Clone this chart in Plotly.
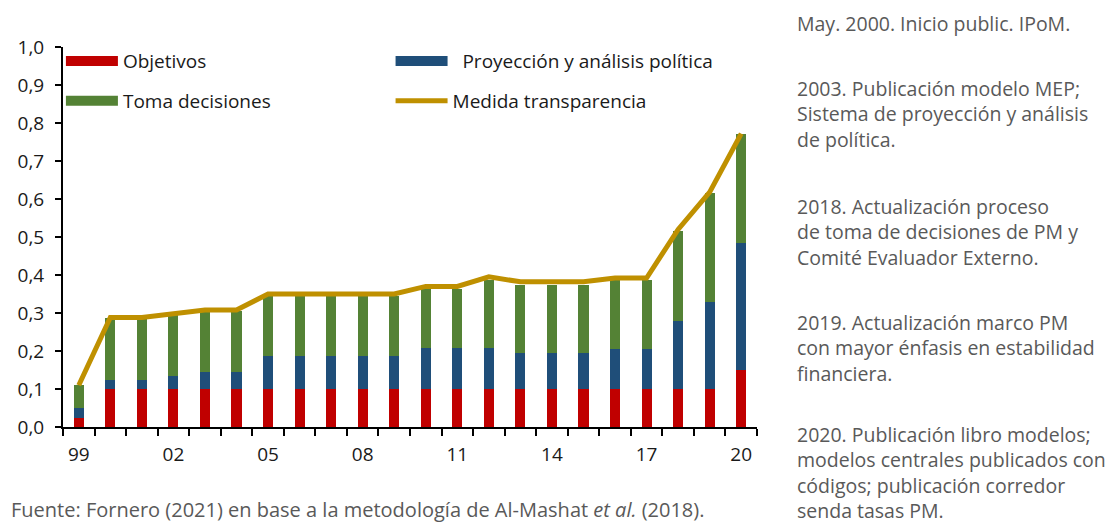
import plotly.graph_objects as go

years = list(range(1999, 2021))
objetivos = [0.025] + [0.1] * 20 + [0.15]
proyeccion = [0.024, 0.023, 0.023, 0.033, 0.046, 0.046, 0.086, 0.086, 0.086, 0.086, 0.086,
              0.107, 0.107, 0.107, 0.095, 0.095, 0.095, 0.104, 0.104, 0.179, 0.228, 0.333]
toma = [0.062, 0.164, 0.164, 0.163, 0.160, 0.160, 0.160, 0.160, 0.160, 0.160, 0.160,
        0.156, 0.156, 0.181, 0.180, 0.180, 0.180, 0.182, 0.182, 0.238, 0.288, 0.288]
medida = [0.110, 0.288, 0.288, 0.297, 0.308, 0.308, 0.350, 0.350, 0.350, 0.350, 0.350,
          0.370, 0.370, 0.395, 0.382, 0.382, 0.382, 0.392, 0.392, 0.520, 0.618, 0.772]
tick_years = [1999, 2002, 2005, 2008, 2011, 2014, 2017, 2020]
tick_labels = ["99", "02", "05", "08", "11", "14", "17", "20"]

notes = [
    "May. 2000. Inicio public. IPoM.",
    "2003. Publicación modelo MEP;<br>Sistema de proyección y análisis<br>de política.",
    "2018. Actualización proceso<br>de toma de decisiones de PM y<br>Comité Evaluador Externo.",
    "2019. Actualización marco PM<br>con mayor énfasis en estabilidad<br>financiera.",
    "2020. Publicación libro modelos;<br>modelos centrales publicados con<br>códigos; publicación corredor<br>senda tasas PM.",
]
source = "Fuente: Fornero (2021) en base a la metodología de Al-Mashat <i>et al.</i> (2018)."

RED, BLUE, GREEN, GOLD = "#C00000", "#1F4E79", "#548235", "#BF9000"
FONT = "Open Sans"
TXT = "#1a1a1a"
GREY = "#595959"

fig = go.Figure()
for name, vals, col in [("Objetivos", objetivos, RED),
                        ("Proyección y análisis política", proyeccion, BLUE),
                        ("Toma decisiones", toma, GREEN)]:
    fig.add_trace(go.Bar(x=years, y=vals, name=name, marker=dict(color=col, line=dict(width=0)),
                         width=0.32, showlegend=False))
fig.add_trace(go.Scatter(x=years, y=medida, mode="lines", name="Medida transparencia",
                         line=dict(color=GOLD, width=5), showlegend=False))

# legend entries
leg_items = [("Objetivos", RED, "legend", 12),
             ("  Proyección y análisis política", BLUE, "legend2", 12),
             ("Toma decisiones", GREEN, "legend3", 12),
             ("Medida transparencia", GOLD, "legend4", 5)]
for name, col, lg, lw in leg_items:
    fig.add_trace(go.Scatter(x=[None], y=[None], mode="lines", name=name,
                             line=dict(color=col, width=lw), legend=lg, showlegend=True))

def leg(x, y):
    return dict(x=x, y=y, xanchor="left", yanchor="middle", bgcolor="rgba(0,0,0,0)",
                font=dict(family=FONT, size=19, color=TXT), itemwidth=52,
                tracegroupgap=0)

fig.update_layout(
    width=1115, height=526,
    margin=dict(l=63, r=358, t=47, b=99),
    paper_bgcolor="white", plot_bgcolor="white",
    barmode="stack", separators=",.",
    font=dict(family=FONT, size=19, color=TXT),
    legend=leg(-0.003, 0.963),
    legend2=leg(0.472, 0.963),
    legend3=leg(-0.003, 0.858),
    legend4=leg(0.472, 0.858),
    xaxis=dict(range=[1998.5, 2020.5], tickmode="array", tickvals=tick_years, ticktext=tick_labels,
               ticks="", ticklabelstandoff=9, showline=True, linecolor="black", linewidth=2,
               showgrid=False, zeroline=False,
               tickfont=dict(family=FONT, size=19, color=TXT),
               minor=dict(tickmode="array", tickvals=[y - 0.5 for y in years] + [2020.5],
                          ticks="outside", ticklen=7, tickwidth=2, tickcolor="black", showgrid=False)),
    yaxis=dict(range=[0, 1.0], dtick=0.1, tickformat=".1f", ticks="outside", ticklen=6, tickwidth=2,
               ticklabelstandoff=7,
               tickcolor="black", showline=True, linecolor="black", linewidth=2, showgrid=False,
               zeroline=False, tickfont=dict(family=FONT, size=19, color=TXT)),
)

note_y = [24, 114, 232, 348, 472]
for txt, yy in zip(notes, note_y):
    fig.add_annotation(text=txt, xref="paper", yref="paper", x=1.0, xshift=734 - 694 - 2,
                       y=1 - (yy - 47) / 380, xanchor="left", yanchor="middle", showarrow=False,
                       align="left", font=dict(family=FONT, size=19.5, color=GREY))
fig.add_annotation(text=source, xref="paper", yref="paper", x=0, xshift=-54, y=-(510 - 427) / 380,
                   xanchor="left", yanchor="middle", showarrow=False, align="left",
                   font=dict(family=FONT, size=20, color=GREY))

fig.write_html("out.html", config={"displayModeBar": False, "staticPlot": True},
               post_script="document.body.style.margin='0';document.body.style.overflow='hidden';")
